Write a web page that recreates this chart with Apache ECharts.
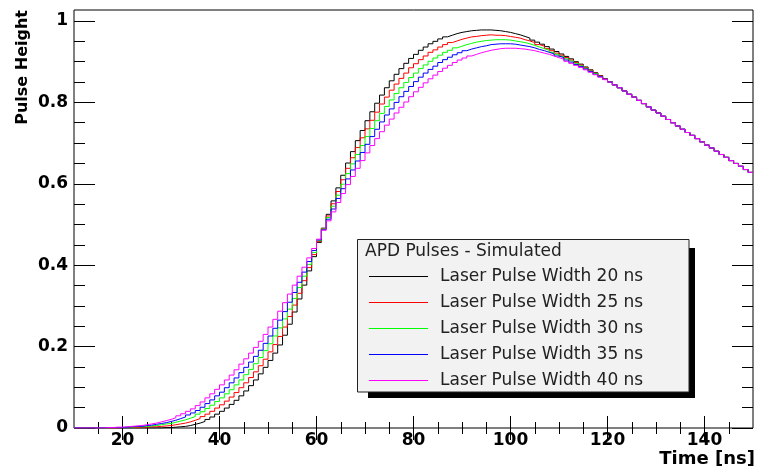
<!DOCTYPE html>
<html>
<head>
<meta charset="utf-8">
<script src="https://cdn.jsdelivr.net/npm/echarts@6/dist/echarts.min.js"></script>
<style>
  html, body { margin: 0; padding: 0; background: #fff; }
  #chart { width: 757px; height: 472px; }
</style>
</head>
<body>
<div id="chart"></div>
<script>
// histogram bins: 1 ns wide, from 10 ns to 150 ns
const binStart = 10
const binEnd = 150

// bins 10..120 ns for each laser pulse width
const width20 = [
  0, 0, 0, 0, 0, 0, 0, 0, 0, 0, 0, 0, 0, 0, 0, 0, 0, 0,
  0.001, 0.001, 0.002, 0.003, 0.004, 0.006, 0.009, 0.012, 0.016, 0.021, 0.027, 0.034,
  0.041, 0.049, 0.058, 0.068, 0.079, 0.091, 0.104, 0.118, 0.133, 0.149,
  0.166, 0.184, 0.204, 0.228, 0.255, 0.285, 0.317, 0.351, 0.386, 0.421,
  0.456, 0.491, 0.525, 0.558, 0.590, 0.621, 0.651, 0.679, 0.706, 0.731,
  0.755, 0.777, 0.798, 0.818, 0.836, 0.853, 0.869, 0.883, 0.896, 0.908,
  0.918, 0.928, 0.936, 0.944, 0.950, 0.956, 0.961, 0.965, 0.969, 0.972,
  0.974, 0.976, 0.977, 0.978, 0.978, 0.978, 0.977, 0.976, 0.974, 0.972,
  0.969, 0.966, 0.962, 0.958, 0.953, 0.948, 0.943, 0.937, 0.931, 0.925,
  0.919, 0.913, 0.907, 0.900, 0.894, 0.887, 0.880, 0.873, 0.866, 0.858,
  0.851
]
const width25 = [
  0, 0, 0, 0, 0, 0, 0, 0,
  0.000, 0.001, 0.001, 0.001, 0.001, 0.002, 0.002, 0.003, 0.003, 0.004, 0.005, 0.006,
  0.008, 0.010, 0.012, 0.015, 0.019, 0.023, 0.028, 0.034, 0.041, 0.049,
  0.057, 0.066, 0.076, 0.087, 0.099, 0.111, 0.124, 0.138, 0.153, 0.169,
  0.187, 0.205, 0.225, 0.248, 0.274, 0.302, 0.331, 0.362, 0.394, 0.426,
  0.458, 0.490, 0.521, 0.551, 0.581, 0.610, 0.638, 0.664, 0.689, 0.713,
  0.735, 0.756, 0.776, 0.796, 0.813, 0.830, 0.845, 0.859, 0.872, 0.885,
  0.895, 0.905, 0.914, 0.923, 0.929, 0.936, 0.942, 0.947, 0.951, 0.955,
  0.958, 0.961, 0.962, 0.964, 0.965, 0.966, 0.965, 0.965, 0.964, 0.962,
  0.960, 0.958, 0.954, 0.951, 0.947, 0.942, 0.938, 0.932, 0.927, 0.921,
  0.916, 0.910, 0.904, 0.898, 0.892, 0.885, 0.879, 0.872, 0.865, 0.858,
  0.850
]
const width30 = [
  0, 0, 0, 0, 0, 0,
  0.000, 0.001, 0.001, 0.001, 0.002, 0.002, 0.003, 0.003, 0.004, 0.005, 0.006, 0.008, 0.010, 0.011,
  0.014, 0.017, 0.020, 0.024, 0.028, 0.034, 0.040, 0.048, 0.056, 0.065,
  0.074, 0.084, 0.094, 0.106, 0.118, 0.131, 0.144, 0.158, 0.173, 0.190,
  0.207, 0.226, 0.246, 0.268, 0.292, 0.318, 0.345, 0.373, 0.402, 0.431,
  0.460, 0.489, 0.517, 0.545, 0.572, 0.599, 0.625, 0.649, 0.672, 0.694,
  0.716, 0.736, 0.755, 0.773, 0.790, 0.806, 0.822, 0.836, 0.849, 0.861,
  0.872, 0.883, 0.892, 0.901, 0.909, 0.916, 0.923, 0.928, 0.934, 0.938,
  0.942, 0.945, 0.948, 0.950, 0.952, 0.953, 0.954, 0.954, 0.954, 0.953,
  0.951, 0.949, 0.947, 0.944, 0.940, 0.936, 0.932, 0.928, 0.923, 0.918,
  0.913, 0.907, 0.902, 0.896, 0.890, 0.884, 0.877, 0.871, 0.864, 0.857,
  0.850
]
const width35 = [
  0, 0, 0, 0, 0, 0,
  0.001, 0.001, 0.001, 0.001, 0.002, 0.003, 0.004, 0.004, 0.006, 0.007, 0.009, 0.011, 0.013, 0.016,
  0.019, 0.023, 0.027, 0.032, 0.037, 0.043, 0.051, 0.060, 0.069, 0.079,
  0.088, 0.099, 0.111, 0.123, 0.136, 0.149, 0.162, 0.176, 0.191, 0.208,
  0.226, 0.245, 0.265, 0.286, 0.309, 0.333, 0.358, 0.383, 0.409, 0.436,
  0.462, 0.487, 0.513, 0.538, 0.564, 0.588, 0.612, 0.634, 0.656, 0.677,
  0.697, 0.716, 0.734, 0.752, 0.769, 0.784, 0.800, 0.814, 0.827, 0.839,
  0.851, 0.862, 0.872, 0.881, 0.889, 0.898, 0.905, 0.911, 0.917, 0.922,
  0.927, 0.931, 0.934, 0.937, 0.939, 0.942, 0.943, 0.944, 0.944, 0.944,
  0.943, 0.941, 0.939, 0.937, 0.934, 0.930, 0.927, 0.923, 0.919, 0.914,
  0.910, 0.904, 0.899, 0.893, 0.888, 0.882, 0.876, 0.869, 0.863, 0.857,
  0.850
]
const width40 = [
  0, 0, 0, 0, 0, 0,
  0.001, 0.001, 0.002, 0.002, 0.003, 0.004, 0.005, 0.006, 0.008, 0.010, 0.012, 0.015, 0.018, 0.021,
  0.025, 0.030, 0.035, 0.041, 0.047, 0.055, 0.064, 0.074, 0.084, 0.095,
  0.106, 0.118, 0.130, 0.143, 0.157, 0.170, 0.184, 0.198, 0.213, 0.230,
  0.248, 0.267, 0.287, 0.308, 0.329, 0.351, 0.373, 0.395, 0.418, 0.441,
  0.464, 0.486, 0.509, 0.531, 0.554, 0.576, 0.598, 0.618, 0.638, 0.657,
  0.676, 0.694, 0.711, 0.728, 0.744, 0.759, 0.774, 0.788, 0.801, 0.814,
  0.826, 0.837, 0.848, 0.858, 0.867, 0.876, 0.884, 0.891, 0.898, 0.904,
  0.909, 0.914, 0.918, 0.922, 0.925, 0.928, 0.930, 0.932, 0.933, 0.933,
  0.933, 0.932, 0.931, 0.929, 0.927, 0.924, 0.921, 0.918, 0.914, 0.910,
  0.906, 0.901, 0.896, 0.891, 0.886, 0.880, 0.874, 0.868, 0.862, 0.856,
  0.850
]
// bins 121..149 ns, where all curves coincide
const tailValues = [
  0.843, 0.836, 0.828, 0.820, 0.813, 0.805, 0.797, 0.789, 0.781,
  0.774, 0.766, 0.758, 0.750, 0.742, 0.734, 0.726, 0.719, 0.711, 0.703,
  0.695, 0.688, 0.680, 0.672, 0.665, 0.657, 0.650, 0.643, 0.635, 0.628
]

const seriesNames = [
  'Laser Pulse Width 20 ns',
  'Laser Pulse Width 25 ns',
  'Laser Pulse Width 30 ns',
  'Laser Pulse Width 35 ns',
  'Laser Pulse Width 40 ns'
]
const seriesColors = ['#000000', '#ff0000', '#00ff00', '#0000ff', '#ff00ff']

const xMajorTicks = [20, 40, 60, 80, 100, 120, 140]
const xMinorTicks = [15, 20, 25, 30, 35, 40, 45, 50, 55, 60, 65, 70, 75, 80, 85, 90, 95, 100, 105, 110, 115, 120, 125, 130, 135, 140, 145]
const yMajorTicks = [0, 0.2, 0.4, 0.6, 0.8, 1]
const yMinorTicks = [0.05, 0.1, 0.15, 0.2, 0.25, 0.3, 0.35, 0.4, 0.45, 0.5, 0.55, 0.6, 0.65, 0.7, 0.75, 0.8, 0.85, 0.9, 0.95, 1]

const yMax = 1.027
const font = 'DejaVu Sans'

// turn bin contents into step points (lower edge of each bin + right edge)
function toSteps(values) {
  const pts = values.map((v, i) => [binStart + i, v])
  pts.push([binEnd, values[values.length - 1]])
  return pts
}

const histograms = [width20, width25, width30, width35, width40].map(h => h.concat(tailValues))

function xTickAxis(position, ticks, len, withLabels) {
  return {
    type: 'value',
    position: position,
    min: binStart,
    max: binEnd,
    axisLine: { show: false },
    splitLine: { show: false },
    axisTick: { inside: true, length: len, customValues: ticks, lineStyle: { color: '#000', width: 1 } },
    axisLabel: withLabels
      ? { customValues: ticks, margin: 4, color: '#000', fontFamily: font, fontWeight: 'bold', fontSize: 17 }
      : { show: false }
  }
}

function yTickAxis(position, ticks, len, withLabels) {
  return {
    type: 'value',
    position: position,
    min: 0,
    max: yMax,
    axisLine: { show: false },
    splitLine: { show: false },
    axisTick: { inside: true, length: len, customValues: ticks, lineStyle: { color: '#000', width: 1 } },
    axisLabel: withLabels
      ? { customValues: ticks, margin: 6, color: '#000', fontFamily: font, fontWeight: 'bold', fontSize: 17 }
      : { show: false }
  }
}

const chart = echarts.init(document.getElementById('chart'), null, { renderer: 'canvas' })

chart.setOption({
  animation: false,
  backgroundColor: '#ffffff',
  grid: {
    left: 74,
    right: 4,
    top: 10,
    bottom: 44,
    show: true,
    borderColor: '#000',
    borderWidth: 1,
    backgroundColor: 'transparent'
  },
  xAxis: [
    xTickAxis('bottom', xMajorTicks, 12, true),
    xTickAxis('bottom', xMinorTicks, 6, false),
    xTickAxis('top', xMajorTicks, 12, false),
    xTickAxis('top', xMinorTicks, 6, false)
  ],
  yAxis: [
    yTickAxis('left', yMajorTicks, 21, true),
    yTickAxis('left', yMinorTicks, 11, false),
    yTickAxis('right', yMajorTicks, 21, false),
    yTickAxis('right', yMinorTicks, 11, false)
  ],
  legend: {
    orient: 'vertical',
    left: 369,
    top: 267,
    padding: 0,
    icon: 'rect',
    itemWidth: 59,
    itemHeight: 1,
    itemGap: 7,
    selectedMode: false,
    data: seriesNames.map((name, i) => ({
      name: name,
      itemStyle: { color: seriesColors[i], borderWidth: 0, opacity: 1 }
    })),
    textStyle: {
      fontFamily: font,
      fontSize: 17,
      color: '#222',
      lineHeight: 19,
      padding: [0, 0, 0, 7]
    }
  },
  graphic: [
    {
      type: 'rect',
      z: 1,
      shape: { x: 689, y: 248, width: 6, height: 150 },
      style: { fill: '#000' }
    },
    {
      type: 'rect',
      z: 1,
      shape: { x: 368, y: 392, width: 327, height: 6 },
      style: { fill: '#000' }
    },
    {
      type: 'rect',
      z: 1,
      shape: { x: 357.5, y: 239.5, width: 331.5, height: 152.5 },
      style: { fill: '#f2f2f2', stroke: '#222', lineWidth: 1 }
    },
    {
      type: 'text',
      z: 5,
      x: 365,
      y: 252,
      style: {
        text: 'APD Pulses - Simulated',
        font: '17px "DejaVu Sans"',
        fill: '#222',
        textAlign: 'left',
        textVerticalAlign: 'middle'
      }
    },
    {
      type: 'text',
      z: 5,
      x: 23,
      y: 10,
      rotation: Math.PI / 2,
      style: {
        text: 'Pulse Height',
        font: 'bold 16px "DejaVu Sans"',
        fill: '#000',
        textAlign: 'right',
        textVerticalAlign: 'middle'
      }
    },
    {
      type: 'text',
      z: 5,
      x: 755,
      y: 459,
      style: {
        text: 'Time [ns]',
        font: 'bold 18px "DejaVu Sans"',
        fill: '#000',
        textAlign: 'right',
        textVerticalAlign: 'middle'
      }
    }
  ],
  series: histograms.map((h, i) => ({
    name: seriesNames[i],
    type: 'line',
    step: 'end',
    symbol: 'none',
    xAxisIndex: 0,
    yAxisIndex: 0,
    color: seriesColors[i],
    lineStyle: { width: 1, color: seriesColors[i] },
    data: toSteps(h)
  }))
})
</script>
</body>
</html>
